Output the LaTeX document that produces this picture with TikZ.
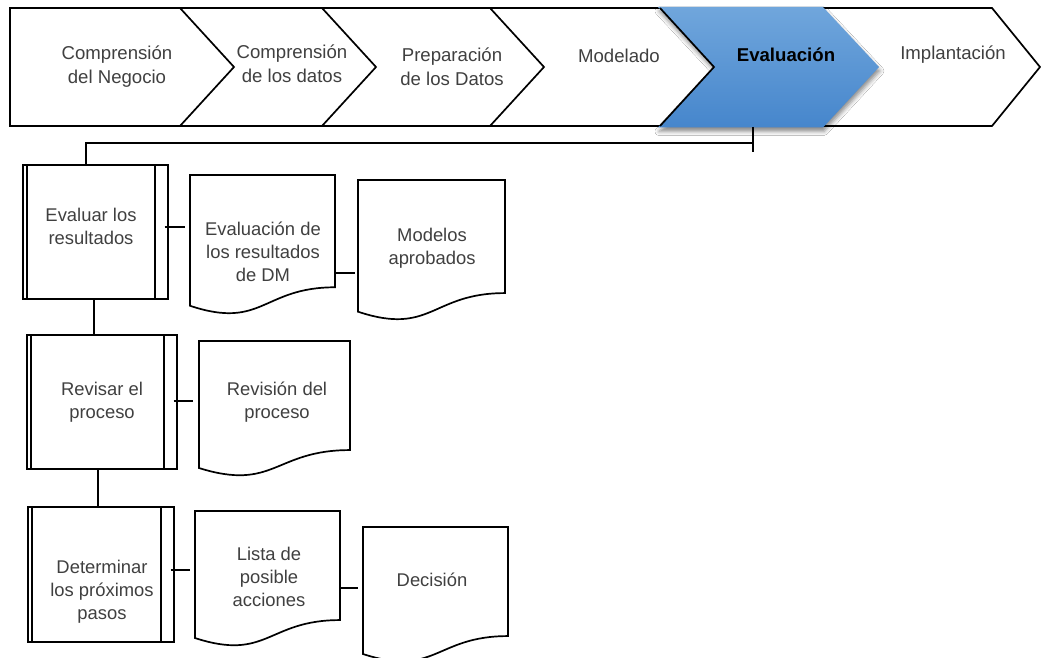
\documentclass[tikz,border=0pt]{standalone}
\usepackage{fontspec}
\setmainfont{Liberation Sans}
\usetikzlibrary{calc,shadows.blur}

\definecolor{txtgray}{RGB}{64,64,64}
\definecolor{evaltop}{RGB}{112,166,220}
\definecolor{evalbot}{RGB}{70,134,204}

\tikzset{
  frame/.style={draw=black, line width=1.7pt, line join=miter},
  conn/.style={draw=black, line width=1.7pt},
  procbox/.style={draw=black, line width=1.7pt, fill=white, inner sep=0pt, anchor=north west},
  innerline/.style={draw=black, line width=1.7pt},
  docline/.style={draw=black, line width=1.7pt, fill=white, line join=miter},
  phase/.style={inner sep=0pt, align=center, text=txtgray, font=\fontsize{18.6}{24}\selectfont},
  label/.style={inner sep=0pt, align=center, text=txtgray, font=\fontsize{18.4}{23}\selectfont},
}

% document symbol: name, left, top, width, height
\newcommand\docsym[5]{%
  \draw[docline] (#2,#3) -- ++(#4,0) -- ++(0,0.802*#5)
    .. controls ++(-0.5*#4,0) and (#2+0.5*#4,#3+1.107*#5) .. (#2,#3+0.934*#5) -- cycle;
  \node[inner sep=0pt, outer sep=0pt, minimum width=#4, minimum height=0.802*#5, anchor=north west] (#1) at (#2,#3) {};
}

% process box with its two inner bars: name, left, top, width, height
\newcommand\procsym[5]{%
  \node[procbox, minimum width=#4, minimum height=#5] (#1) at (#2,#3) {};
  \draw[innerline] ([xshift=5]#1.north west) -- ([xshift=5]#1.south west);
  \draw[innerline] ([xshift=-14]#1.north east) -- ([xshift=-14]#1.south east);
}

\begin{document}
\begin{tikzpicture}[x=1pt,y=-1pt]
\useasboundingbox (0,0) rectangle (1041,658);
\fill[white] (0,0) rectangle (1041,658);

% ---- phase bar ----
\draw[frame] (10,8) -- (992,8) -- (1040,67) -- (992,126) -- (10,126) -- cycle;
\foreach \xx in {180,322,490} {
  \draw[frame] (\xx,8) -- (\xx+54,67) -- (\xx,126);
}
% highlighted phase
\path[top color=evaltop, bottom color=evalbot,
      blur shadow={shadow xshift=1pt, shadow yshift=-4pt, shadow blur radius=4pt, shadow opacity=45}]
  (658,7) -- (823,7) -- (879,67) -- (823,127.5) -- (658,127.5) -- (714,67) -- cycle;
\draw[frame] (660,8) -- (714,67) -- (660,126);

\node[phase] (p1) at (117,66.5) {Comprensión\\del Negocio};
\node[phase] (p2) at (292,64) {Comprensión\\de los datos};
\node[phase] (p3) at (452,67) {Preparación\\de los Datos};
\node[phase] (p4) at (619,56) {Modelado};
\node[phase, text=black, font=\fontsize{18.6}{24}\selectfont\bfseries] (p5) at (786,55) {Evaluación};
\node[phase] (p6) at (953,55) {Implantación};

% ---- tasks ----
\procsym{b1}{22}{164}{145}{134}
\procsym{b2}{26}{334}{150}{134}
\procsym{b3}{27}{506}{146}{135}

\docsym{d1}{190}{175}{145}{140}
\docsym{d2}{358}{180}{147}{141}
\docsym{d3}{199}{341}{151}{136}
\docsym{d4}{195}{511}{145}{136}
\docsym{d5}{363}{527}{145}{136}

\node[label] (b1t) at (91,226) {Evaluar los\\resultados};
\node[label] (d1t) at (263,252) {Evaluación de\\los resultados\\de DM};
\node[label] (d2t) at (432,248) {Modelos\\aprobados};
\node[label] (b2t) at (102,402) {Revisar el\\proceso};
\node[label] (d3t) at (277,402) {Revisión del\\proceso};
\node[label] (b3t) at (102,592) {Determinar\\los próximos\\pasos};
\node[label] (d4t) at (269,577) {Lista de\\posible\\acciones};
\node[label] (d5t) at (432,580) {Decisión};

% ---- connectors ----
\coordinate (evb) at (753,127);
\coordinate (evt) at (753,152);
\coordinate (bk) at (86,143);
\draw[conn] (evb) -- (evt);
\draw[conn] (evb |- bk) -- (bk) -- (bk |- b1.north);

\draw[conn] ([xshift=-1.5]b1.south) -- ([xshift=-1.5]b1.south |- b2.north);
\draw[conn] ([xshift=-4]b2.south) -- ([xshift=-4]b2.south |- b3.north);

\draw[conn, shorten <=-4pt, shorten >=5pt] ([yshift=5]b1.east) -- ([yshift=5]b1.east -| d1.west);
\draw[conn, shorten <=-4pt, shorten >=6pt] ([yshift=1]b2.east) -- ([yshift=1]b2.east -| d3.west);
\draw[conn, shorten <=-4pt, shorten >=5pt] ([yshift=4.5]b3.east) -- ([yshift=4.5]b3.east -| d4.west);
\draw[conn, shorten >=3pt] ([yshift=-42]d1.east) -- ([yshift=-42]d1.east -| d2.west);
\draw[conn, shorten >=5pt] ([yshift=-22.5]d4.east) -- ([yshift=-22.5]d4.east -| d5.west);
\end{tikzpicture}
\end{document}
